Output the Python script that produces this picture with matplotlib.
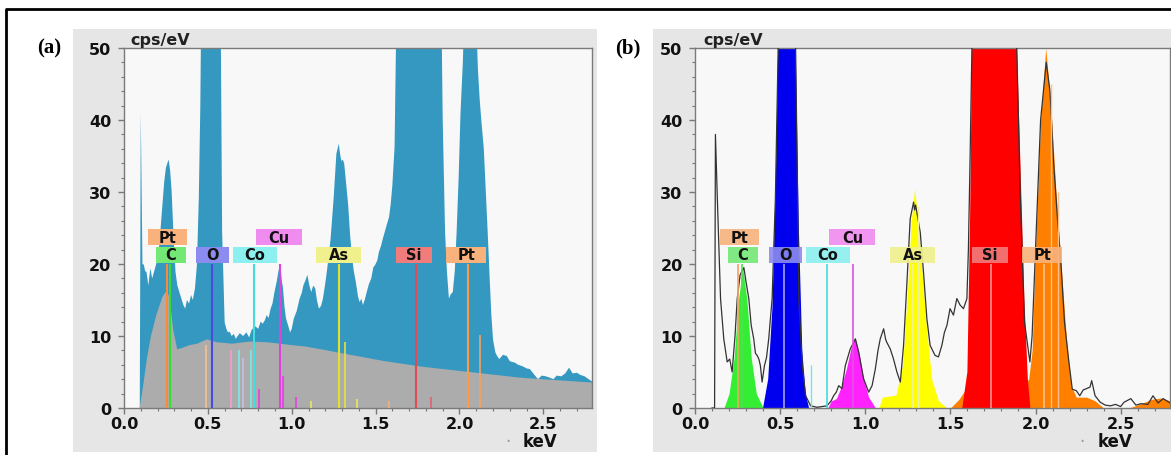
"""EDS spectra, two panels: (a) raw spectrum over background, (b) fitted element peaks."""

import matplotlib
matplotlib.use("Agg")
import matplotlib.pyplot as plt  # noqa: E402
from matplotlib.patches import Rectangle  # noqa: E402
from matplotlib.lines import Line2D  # noqa: E402
from matplotlib.ticker import MultipleLocator, FormatStrFormatter  # noqa: E402

# ---- data (keV, cps/eV) ----
A_KEV = [0.0, 0.085, 0.094, 0.100, 0.110, 0.118, 0.126, 0.134, 0.145, 0.157, 0.168, 0.18, 0.192,
         0.203, 0.215, 0.226, 0.24, 0.25, 0.266, 0.275, 0.284, 0.295, 0.307, 0.318, 0.33, 0.342,
         0.354, 0.365, 0.375, 0.388, 0.40, 0.41, 0.423, 0.435, 0.446, 0.455, 0.462, 0.52, 0.575,
         0.585, 0.60, 0.61, 0.62, 0.63, 0.642, 0.655, 0.666, 0.69, 0.71, 0.73, 0.746, 0.76, 0.78,
         0.80, 0.815, 0.827, 0.84, 0.85, 0.862, 0.874, 0.885, 0.897, 0.91, 0.92, 0.931, 0.942,
         0.948, 0.957, 0.966, 0.978, 0.99, 1.00, 1.012, 1.03, 1.047, 1.06, 1.07, 1.08, 1.093,
         1.105, 1.116, 1.128, 1.14, 1.15, 1.162, 1.175, 1.186, 1.198, 1.209, 1.22, 1.232, 1.25,
         1.266, 1.28, 1.29, 1.296, 1.305, 1.313, 1.325, 1.336, 1.348, 1.36, 1.37, 1.382, 1.395,
         1.405, 1.415, 1.424, 1.435, 1.447, 1.46, 1.474, 1.486, 1.498, 1.51, 1.52, 1.532, 1.544,
         1.555, 1.567, 1.58, 1.59, 1.60, 1.613, 1.627, 1.76, 1.89, 1.90, 1.914, 1.925, 1.937,
         1.948, 1.96, 1.972, 1.983, 1.995, 2.006, 2.02, 2.035, 2.07, 2.098, 2.11, 2.12, 2.13,
         2.145, 2.155, 2.168, 2.18, 2.19, 2.20, 2.214, 2.225, 2.237, 2.26, 2.283, 2.30, 2.33,
         2.35, 2.376, 2.40, 2.42, 2.44, 2.468, 2.49, 2.515, 2.54, 2.56, 2.58, 2.607, 2.63, 2.653,
         2.675, 2.70, 2.72, 2.746, 2.77, 2.79]
A_CPS = [0, 0, 0, 41, 20, 19.9, 19, 18.9, 17, 19.4, 18, 19, 20,
         20.8, 24, 27.3, 31.5, 33.4, 34.5, 33, 30.1, 24, 18.9, 17, 16.1, 15.2,
         14.3, 13.8, 15, 14.5, 15.7, 15, 16.6, 20, 29.2, 42, 60, 80, 60,
         24.5, 11.9, 11, 10.5, 10.6, 10, 10.3, 9.6, 10.4, 10, 10.5, 9.8, 10.8, 11.4,
         11, 12, 11.7, 12.2, 12.9, 12.5, 13.8, 14.5, 16.1, 17.5, 18.9, 20.1, 17.5,
         16.6, 14, 12.4, 11.5, 10.5, 11, 12.4, 13.5, 15.2, 16, 17.1, 17.6, 18.5,
         17, 16.1, 17, 16.6, 15, 13.8, 14.2, 15.2, 17, 18.9, 21, 23.6, 29.2,
         35.3, 36.7, 35, 34.3, 34.5, 33.9, 31, 28.3, 24, 20.8, 19, 17.5, 15.5,
         14.7, 15.2, 14.3, 15, 16.1, 17.2, 18, 19.5, 19.9, 20.5, 21.7, 22.5, 23.6,
         24.5, 25.5, 26.5, 28.3, 31, 36.2, 60, 100, 60, 40, 24.5, 19, 15.2,
         15.8, 16.1, 19, 24.5, 32, 40.9, 48, 60, 70, 55, 47, 43, 40,
         36, 31, 24.5, 18, 12.9, 9.5, 7.7, 7.2, 6.8, 7.4, 7.2, 6.5, 6.3,
         6.0, 5.8, 5.5, 5.4, 4.8, 4.0, 4.5, 4.4, 4.2, 4.0, 4.5, 4.4, 4.8, 5.6,
         4.8, 4.9, 4.6, 4.4, 4.0, 3.7]

BG_KEV = [0.0, 0.09, 0.11, 0.134, 0.157, 0.19, 0.226, 0.25, 0.268, 0.29, 0.314, 0.342, 0.388,
          0.434, 0.49, 0.55, 0.642, 0.75, 0.85, 1.0, 1.08, 1.2, 1.313, 1.43, 1.544, 1.66,
          1.775, 1.89, 2.006, 2.12, 2.237, 2.35, 2.468, 2.6, 2.79]
BG_CPS = [0, 0, 3, 7, 10, 13, 15.5, 16.3, 15.5, 11, 8.2, 8.4, 8.8,
          9.0, 9.6, 9.2, 9.0, 9.3, 9.2, 8.8, 8.6, 8.1, 7.6, 7.1, 6.6, 6.2,
          5.8, 5.5, 5.2, 4.9, 4.6, 4.3, 4.1, 3.9, 3.6]

B_KEV = [0.10, 0.115, 0.12, 0.13, 0.15, 0.169, 0.189, 0.204, 0.218, 0.235, 0.248, 0.265, 0.287,
         0.30, 0.316, 0.33, 0.345, 0.355, 0.365, 0.375, 0.384, 0.394, 0.408, 0.42, 0.433, 0.453,
         0.472, 0.49, 0.54, 0.59, 0.61, 0.63, 0.65, 0.679, 0.717, 0.775, 0.80, 0.814, 0.83,
         0.844, 0.863, 0.883, 0.912, 0.942, 0.961, 0.99, 1.02, 1.04, 1.059, 1.075, 1.088, 1.108,
         1.12, 1.127, 1.147, 1.166, 1.186, 1.206, 1.225, 1.245, 1.264, 1.284, 1.29, 1.296, 1.303,
         1.323, 1.342, 1.362, 1.381, 1.41, 1.43, 1.45, 1.465, 1.48, 1.498, 1.518, 1.538, 1.557,
         1.577, 1.597, 1.606, 1.616, 1.63, 1.76, 1.885, 1.91, 1.935, 1.955, 1.967, 1.98, 2.00,
         2.03, 2.063, 2.085, 2.107, 2.13, 2.15, 2.17, 2.194, 2.216, 2.24, 2.26, 2.28, 2.30, 2.32,
         2.33, 2.35, 2.38, 2.41, 2.44, 2.47, 2.50, 2.52, 2.56, 2.59, 2.62, 2.66, 2.69, 2.72,
         2.75, 2.79]
B_CPS = [0, 0, 38, 30, 15.2, 9.6, 6.4, 6.8, 5.0, 10, 15.2, 18.5, 19.5,
         17.5, 15.2, 11.5, 9.6, 7.6, 7.3, 6.8, 5.9, 3.6, 5.9, 7, 9.6, 15.2,
         29, 52, 80, 52, 15.2, 5.9, 1.7, 0.3, 0.1, 0.3, 1.0, 1.7, 2.2,
         3.1, 2.7, 5.9, 8.2, 9.6, 7.8, 4.1, 2.2, 3.1, 5.4, 8, 9.6, 11.0,
         9.5, 9.1, 8.2, 6.8, 5.0, 3.6, 8.7, 17.5, 26.3, 28.6, 27.5, 28.2, 27.2,
         24.4, 18.9, 12.4, 8.7, 7.3, 7.1, 8.7, 10.5, 11.5, 13.8, 12.9, 15.2, 14.3,
         13.8, 15.2, 22.1, 35, 55, 110, 55, 30, 12, 8.5, 6.4, 10, 22,
         40, 48, 44, 33.9, 26, 19.9, 12, 6.8, 2.6, 2.4, 1.7, 2.5, 2.7, 2.9,
         3.8, 1.7, 0.8, 0.4, 0.3, 0.5, 0.2, 0.8, 1.3, 0.4, 0.6, 0.5, 1.7, 0.7,
         1.3, 0.7]

# fitted element peaks in (b)
C_KEV = [0.17, 0.20, 0.23, 0.255, 0.28, 0.305, 0.33, 0.36, 0.40]
C_CPS = [0, 2, 7, 15, 19.5, 15, 7, 2, 0]
O_KEV = [0.40, 0.43, 0.455, 0.475, 0.49, 0.54, 0.59, 0.61, 0.63, 0.65, 0.67]
O_CPS = [0, 4, 14, 32, 52, 80, 52, 25, 8, 2, 0]
CU_KEV = [0.78, 0.80, 0.83, 0.86, 0.89, 0.915, 0.94, 0.965, 0.99, 1.02, 1.06]
CU_CPS = [0, 1.0, 1.3, 3, 5.5, 8.2, 9.8, 7.5, 4, 1.5, 0]
AS_KEV = [1.08, 1.10, 1.18, 1.22, 1.25, 1.27, 1.29, 1.31, 1.33, 1.36, 1.39, 1.43, 1.48]
AS_CPS = [0, 1.5, 1.8, 6, 17, 26, 30.5, 26, 20, 11, 4, 1, 0]
SI_KEV = [1.57, 1.60, 1.615, 1.63, 1.76, 1.885, 1.91, 1.935, 1.955, 1.97]
SI_CPS = [0, 5, 25, 55, 70, 55, 35, 15, 4, 0]
PT_KEV = [1.50, 1.55, 1.60, 1.66, 1.72, 1.80, 1.86, 1.92, 1.96, 1.98, 2.00, 2.03, 2.06, 2.09,
          2.12, 2.15, 2.18, 2.21, 2.24, 2.30, 2.35, 2.40, 2.55, 2.62, 2.68, 2.74, 2.79]
PT_CPS = [0, 1.2, 3.0, 1.0, 0.3, 0.5, 1.5, 3.0, 4, 8, 22, 40, 50, 42,
          30, 20, 10, 3, 1.5, 1.5, 1, 0, 0, 0.6, 1.2, 1.4, 1.0]

# element markers
LABELS = ["Pt", "C", "O", "Co", "Cu", "As", "Si", "Pt"]
LABEL_KEV = [0.26, 0.28, 0.53, 0.78, 0.925, 1.28, 1.73, 2.04]
LABEL_ROW = [1, 0, 0, 0, 1, 0, 0, 0]
LINE_KEV = [0.255, 0.277, 0.525, 0.776, 0.93, 1.282, 1.74, 2.05]
LINE_TOP = 20

# minor lines of panel (a)
A_MINOR_KEV = [0.49, 0.637, 0.687, 0.71, 0.756, 0.806, 0.945, 1.025, 1.115, 1.317, 1.39, 1.58, 1.83, 2.12]
A_MINOR_CPS = [8.7, 8, 8, 7, 8, 2.6, 4.5, 1.5, 1.0, 9.1, 1.2, 1.0, 1.5, 10.2]
A_MINOR_COL = ["#f5c090", "#f0a0d0", "#80e8e8", "#c0c0e8", "#80e8e8", "#e040e0", "#e040e0",
               "#e040e0", "#e8e860", "#e8e040", "#e8e860", "#f5b080", "#e06070", "#f5a060"]

# minor lines of panel (b)
B_MINOR_KEV = [0.684, 1.31, 2.09, 2.13]
B_MINOR_CPS = [6, 28, 45, 30]
B_MINOR_COL = ["#70e8e8", "#f0f0a0", "#f8c090", "#f8c090"]

# ---- styling ----
W, H, DPI = 1171, 456, 100
XMAX = 2.79
BOX_FACE = ["#f9b27c", "#74e874", "#8c8cf0", "#8cf0f0", "#f08cf0", "#f0f08c", "#f07c7c", "#f9b27c"]
LINE_COL_A = ["#ff8833", "#33dd33", "#4a4add", "#44dddd", "#dd44dd", "#e0e030", "#e04a55", "#ff9944"]
LINE_COL_B = ["#f9a060", "#50e050", "#a0a0f0", "#40dddd", "#e050e0", "#f0f0a0", "#f09090", "#f8c090"]
BOX_WIDTH_PX = [39, 30, 33, 44, 46, 45, 36, 40]
ROW_Y0 = [20.2, 22.6]
BOX_H = 2.2
BLUE = "#3598c1"
GRAY = "#acacac"


def style_axes(ax):
    ax.set_xlim(0, XMAX)
    ax.set_ylim(0, 50)
    ax.set_facecolor("#f8f8f8")
    ax.xaxis.set_major_locator(MultipleLocator(0.5))
    ax.xaxis.set_minor_locator(MultipleLocator(0.1))
    ax.yaxis.set_major_locator(MultipleLocator(10))
    ax.yaxis.set_minor_locator(MultipleLocator(2))
    ax.xaxis.set_major_formatter(FormatStrFormatter("%.1f"))
    ax.tick_params(which="both", direction="out", color="#777777", labelsize=11.5,
                   labelcolor="#111111")
    ax.tick_params(which="major", length=4, width=1, pad=2)
    ax.tick_params(which="minor", length=2.5, width=0.8)
    ax.tick_params(axis="y", which="major", pad=5)
    for lab in ax.get_xticklabels() + ax.get_yticklabels():
        lab.set_fontweight("bold")
    for s in ax.spines.values():
        s.set_color("#7a7a7a")
        s.set_linewidth(1)


def draw_labels(ax, px_per_kev, alpha):
    for name, kev, row, wpx, face in zip(LABELS, LABEL_KEV, LABEL_ROW, BOX_WIDTH_PX, BOX_FACE):
        w = wpx / px_per_kev
        y0 = ROW_Y0[row]
        ax.add_patch(Rectangle((kev - w / 2, y0), w, BOX_H, facecolor=face, edgecolor="none",
                               alpha=alpha, zorder=6))
        ax.text(kev, y0 + BOX_H / 2 - 0.05, name, ha="center", va="center", fontsize=10.5,
                fontweight="bold", color="#111111", zorder=7)


def axis_text(fig, x_px, y_px, s, **kw):
    fig.text(x_px / W, 1 - y_px / H, s, **kw)


fig = plt.figure(figsize=(W / DPI, H / DPI), dpi=DPI)

# outer frame (left + top edges) and grey panel backgrounds
fig.add_artist(Line2D([6 / W, 6 / W, 1], [0, 1 - 10 / H, 1 - 10 / H], color="black", lw=2,
                      transform=fig.transFigure))
for x0, x1 in [(73, 597), (653, 1171)]:
    fig.add_artist(Rectangle((x0 / W, 3 / H), (x1 - x0) / W, 423 / H, transform=fig.transFigure,
                             facecolor="#e6e6e6", edgecolor="none", zorder=-5))

ax_a = fig.add_axes([124 / W, 47 / H, 468 / W, 360 / H])
ax_b = fig.add_axes([695 / W, 47 / H, 475 / W, 360 / H])

# (a) raw spectrum over background
ax_a.fill_between(A_KEV, A_CPS, color=BLUE, lw=0, zorder=1)
ax_a.fill_between(BG_KEV, BG_CPS, color=GRAY, lw=0, zorder=2)
ax_a.vlines(A_MINOR_KEV, 0, A_MINOR_CPS, colors=A_MINOR_COL, lw=1.2, zorder=3)
ax_a.vlines(LINE_KEV, 0, LINE_TOP, colors=LINE_COL_A, lw=1.5, zorder=4)
style_axes(ax_a)
draw_labels(ax_a, 468 / XMAX, 1.0)

# (b) fitted peaks + measured line
ax_b.fill_between(PT_KEV, PT_CPS, color="#ff8000", lw=0, zorder=1)
ax_b.fill_between(SI_KEV, SI_CPS, color="#ff0000", lw=0, zorder=2)
ax_b.fill_between(AS_KEV, AS_CPS, color="#ffff00", lw=0, zorder=2)
ax_b.fill_between(CU_KEV, CU_CPS, color="#ff22ff", lw=0, zorder=2)
ax_b.fill_between(O_KEV, O_CPS, color="#0000ee", lw=0, zorder=2)
ax_b.fill_between(C_KEV, C_CPS, color="#33ee33", lw=0, zorder=2)
ax_b.plot(B_KEV, B_CPS, color="#333333", lw=0.9, zorder=3)
ax_b.vlines(B_MINOR_KEV, 0, B_MINOR_CPS, colors=B_MINOR_COL, lw=1.0, zorder=4)
ax_b.vlines(LINE_KEV, 0, LINE_TOP, colors=LINE_COL_B, lw=1.2, zorder=4)
style_axes(ax_b)
draw_labels(ax_b, 475 / XMAX, 0.9)

# axis captions and panel letters
for x_cps, x_kev, x_dot, x_let, letter in [(130, 540, 508, 49, "(a)"), (703, 1115, 1082, 628, "(b)")]:
    axis_text(fig, x_cps, 40, "cps/eV", ha="left", va="center", fontsize=11.5,
              fontweight="bold", color="#222222")
    axis_text(fig, x_kev, 442, "keV", ha="center", va="center", fontsize=12,
              fontweight="bold", color="#111111")
    axis_text(fig, x_dot, 442, "\u00b7", ha="center", va="center", fontsize=12, color="#999999")
    axis_text(fig, x_let, 48, letter, ha="center", va="center", fontsize=15,
              fontweight="bold", family=["Liberation Serif", "DejaVu Serif"], color="black")

fig.savefig("out.png", dpi=DPI)
